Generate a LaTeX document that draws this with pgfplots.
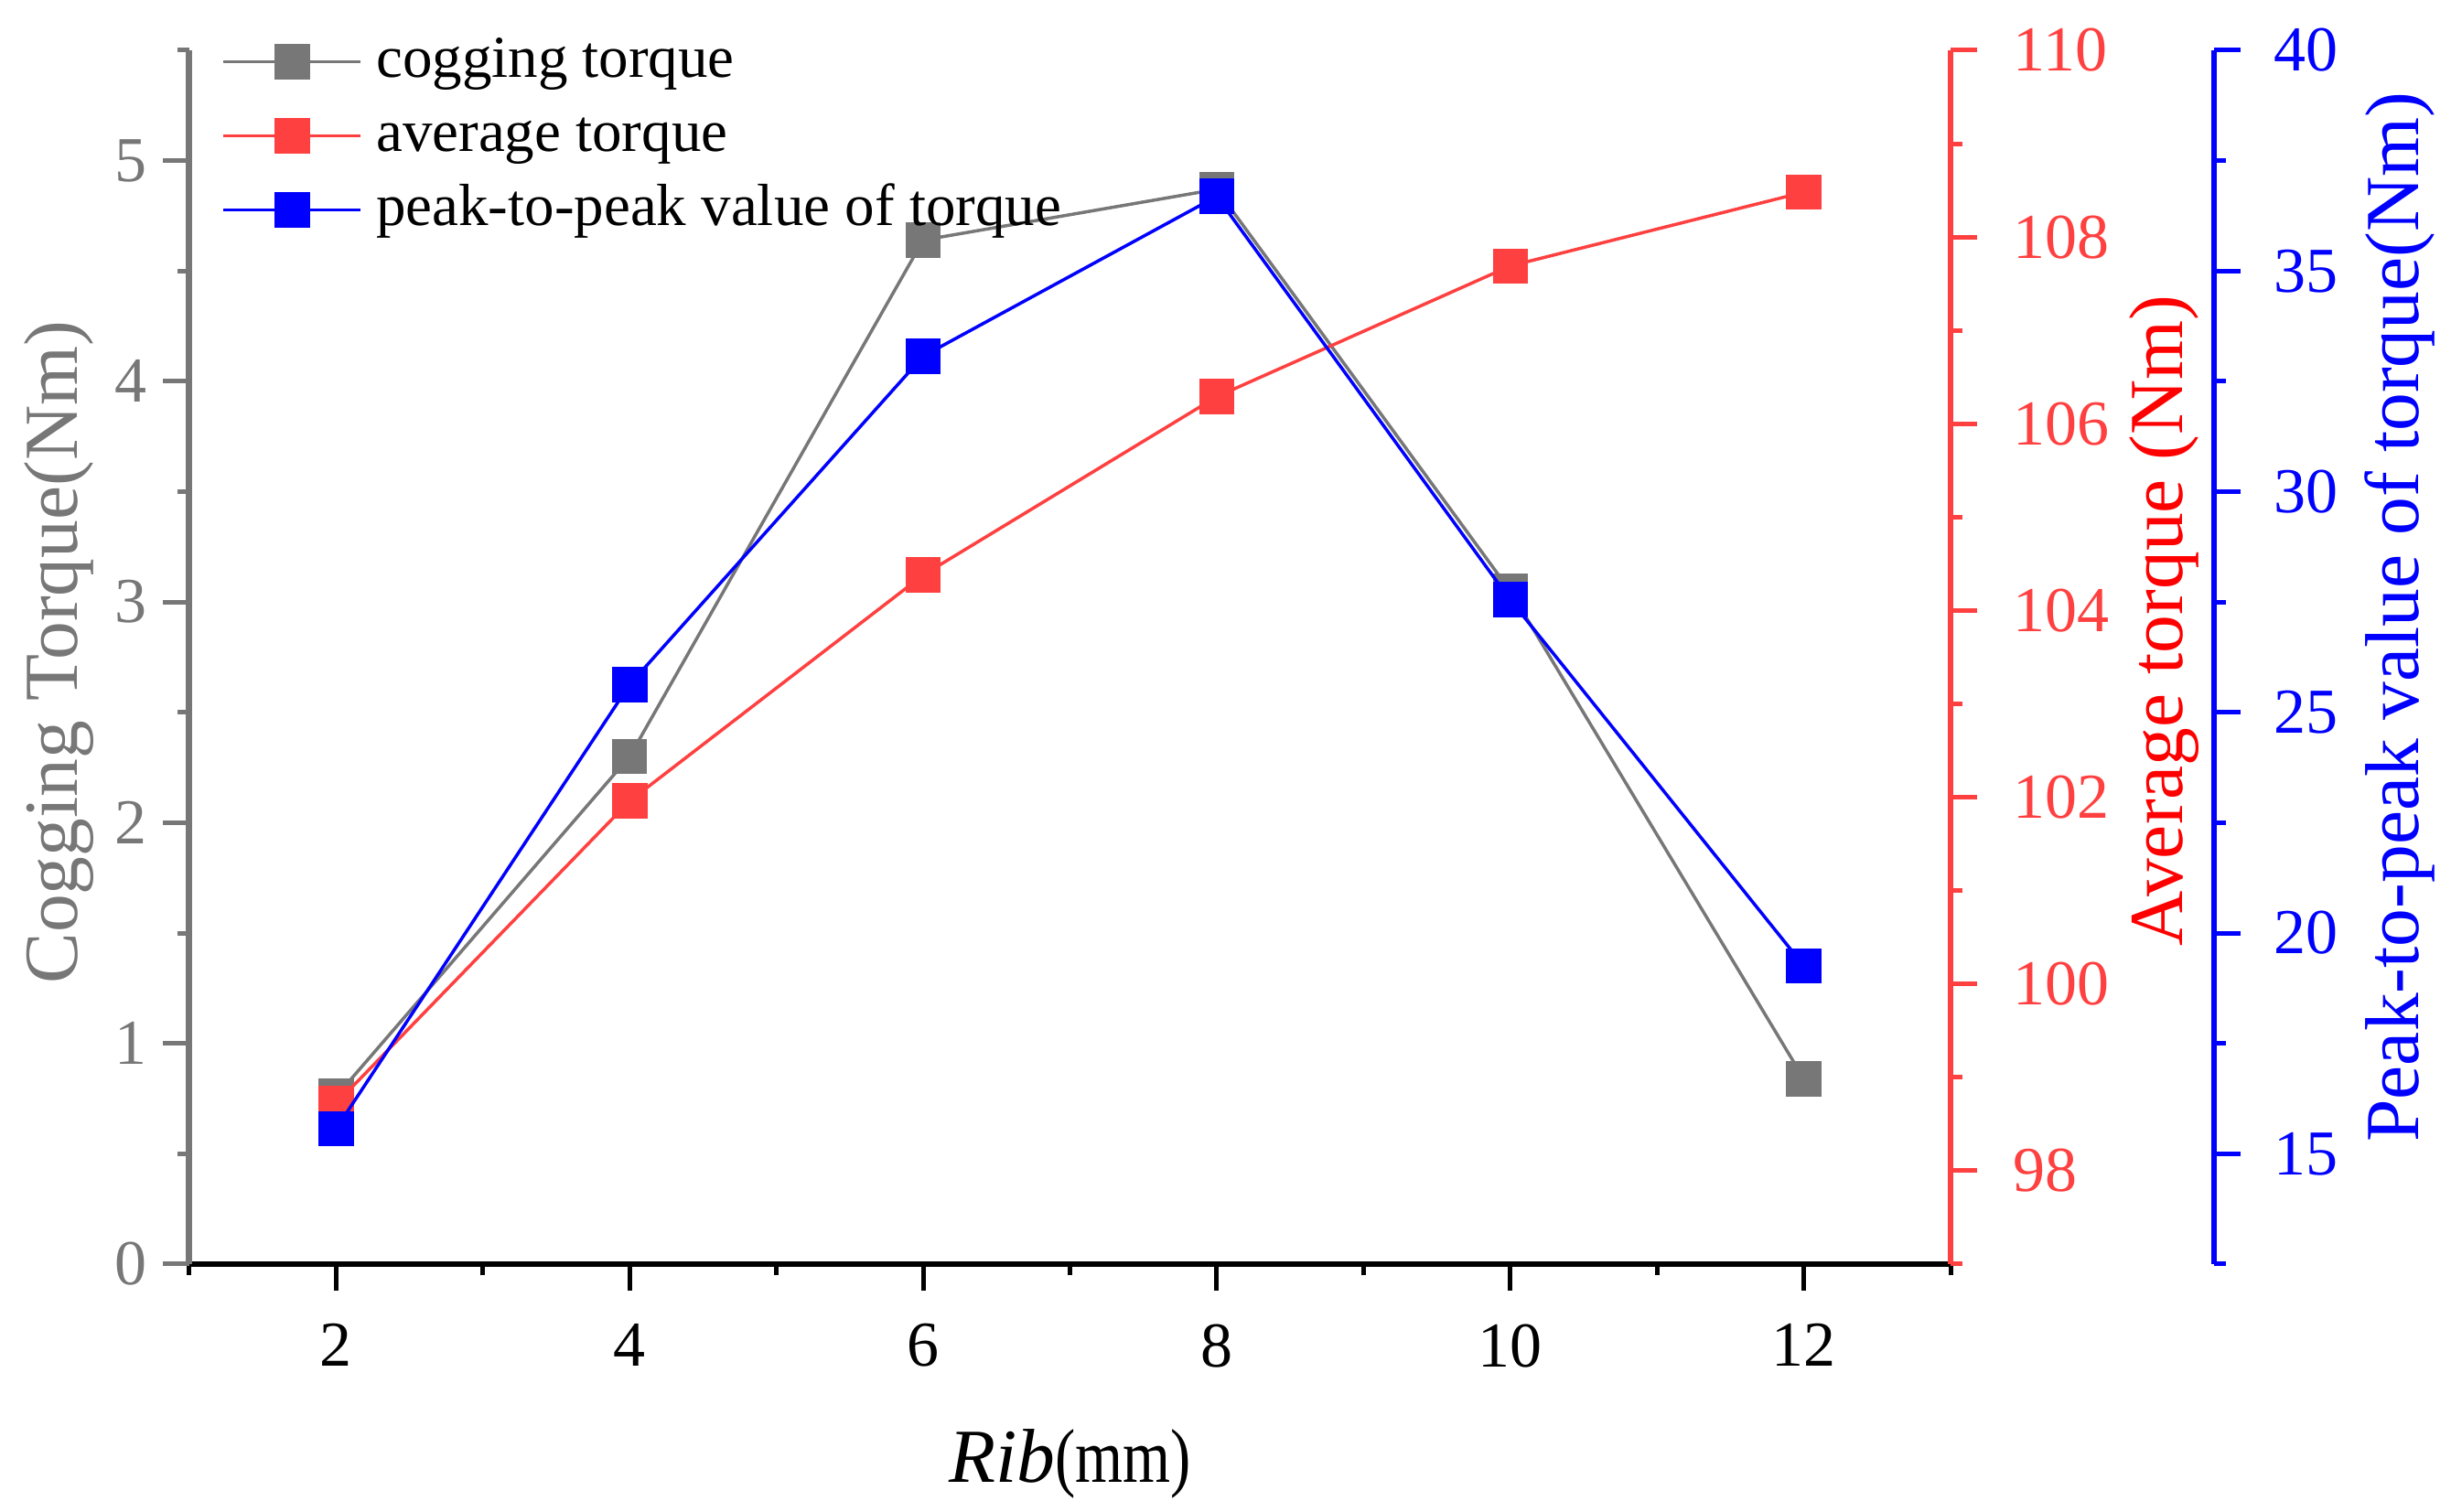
\documentclass[border=0pt]{standalone}
\usepackage{fontspec}
\setmainfont{Liberation Serif}
\usepackage{pgfplots}
\pgfplotsset{compat=1.18}

\definecolor{cgray}{HTML}{777777}
\definecolor{cred}{HTML}{FF4040}
\definecolor{cblue}{HTML}{0000FF}

\pgfplotsset{
  base/.style={
    scale only axis, width=385pt, height=265.4pt,
    xmin=1, xmax=13,
    tick align=outside,
    major tick length=5.8pt, minor tick length=2.5pt,
    tick label style={font=\fontsize{14}{16}\selectfont},
    /pgf/number format/assume math mode=true,
    label style={font=\fontsize{16.7}{19}\selectfont},
    every axis plot/.append style={line width=0.7pt, mark=square*, mark size=3.5pt},
  },
}

\begin{document}
\begin{tikzpicture}
\useasboundingbox (-41.4pt,-54.2pt) rectangle (494.4pt,276.4pt);

% left axis: cogging torque
\begin{axis}[base,
  ymin=0, ymax=5.5,
  axis x line*=bottom, axis y line*=left,
  x axis line style={black, line width=1.3pt, -},
  y axis line style={cgray, line width=1.4pt, -},
  xtick={2,4,...,12}, minor xtick={1,3,...,13},
  ytick={0,1,...,5}, minor ytick={0.5,1.5,...,5.5},
  xtick style={black, line width=1pt},
  ytick style={cgray, line width=1pt},
  yticklabel style={cgray},
  xticklabel style={yshift=-3.8pt},
  xlabel={\textit{Rib}\scalebox{0.8}[1]{(mm)}},
  xlabel style={at={(rel axis cs:0.5,0)}, anchor=base, yshift=-47.8pt},
  ylabel={Cogging Torque(Nm)},
  ylabel style={cgray, at={(ticklabel cs:0.504)}},
  ylabel shift=-2.3pt,
  legend style={draw=none, fill=none, at={(0.018,1.02)}, anchor=north west,
    inner sep=0pt, row sep=1pt,
    nodes={inner sep=1pt, text height=10pt, text depth=3.2pt},
    /tikz/every odd column/.append style={column sep=2pt},
    font=\fontsize{13}{15}\selectfont},
  legend cell align=left,
  legend image code/.code={
    \draw[mark repeat=2, mark phase=2] plot coordinates {(0pt,0pt) (15pt,0pt) (30pt,0pt)};},
]
\addplot[color=cgray] coordinates {
(2,0.76)
(4,2.30)
(6,4.64)
(8,4.87)
(10,3.05)
(12,0.84)
};
\addlegendimage{color=cred, line width=0.7pt, mark=square*, mark size=3.5pt}
\addlegendimage{color=cblue, line width=0.7pt, mark=square*, mark size=3.5pt}
\legend{cogging torque, average torque, peak-to-peak value of torque}
\end{axis}

% right axis: average torque
\begin{axis}[base,
  ymin=97, ymax=110,
  axis x line=none, xtick=\empty,
  axis y line*=right,
  y axis line style={cred, line width=1.15pt, -},
  ytick={98,100,...,110}, minor ytick={97,99,...,109},
  ytick style={cred, line width=1pt},
  yticklabel style={cred, xshift=4.4pt},
  ylabel={Average torque (Nm)},
  ylabel style={red, at={(ticklabel cs:0.53)}},
  ylabel shift=-2.5pt,
]
\addplot[color=cred] coordinates {
(2,98.72)
(4,101.96)
(6,104.38)
(8,106.29)
(10,107.69)
(12,108.48)
};
\end{axis}

% second right axis: peak-to-peak torque
\begin{axis}[base,
  ymin=12.5, ymax=40,
  axis x line=none, xtick=\empty,
  axis y line*=right, axis y line shift=57.6pt,
  y axis line style={cblue, line width=1.2pt, -},
  ytick={15,20,...,40}, minor ytick={12.5,17.5,...,37.5},
  ytick style={cblue, line width=1pt},
  yticklabel style={cblue, xshift=3.8pt},
  ylabel={Peak-to-peak value of torque(Nm)},
  ylabel style={cblue, at={(ticklabel cs:0.533)}},
  ylabel shift=-1pt,
]
\addplot[color=cblue] coordinates {
(2,15.57)
(4,25.63)
(6,33.07)
(8,36.69)
(10,27.55)
(12,19.26)
};
\end{axis}
\end{tikzpicture}
\end{document}
